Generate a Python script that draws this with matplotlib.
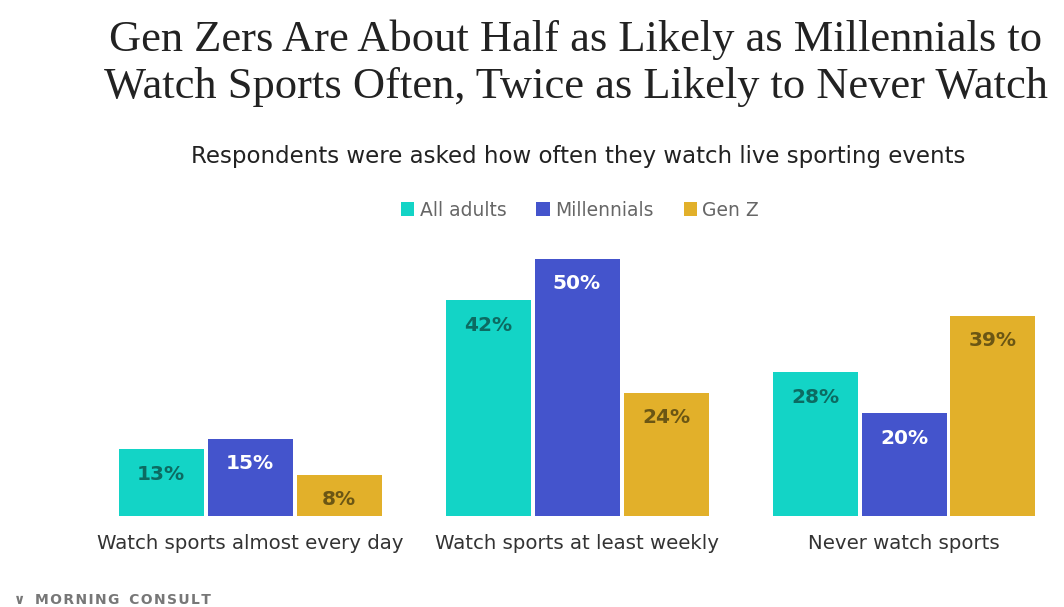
import numpy as np
import matplotlib.pyplot as plt
from matplotlib.patches import Patch

# data
categories = ['Watch sports almost every day', 'Watch sports at least weekly', 'Never watch sports']
series = ['All adults', 'Millennials', 'Gen Z']
all_adults = [13, 42, 28]
millennials = [15, 50, 20]
gen_z = [8, 24, 39]

colors = ['#13d4c6', '#4454cc', '#e2b02a']
label_colors = ['#0c6b62', '#ffffff', '#6b5614']

plt.rcParams['font.family'] = ['DejaVu Sans']

fig = plt.figure(figsize=(10.64, 6.07), dpi=100)
ax = fig.add_axes([0, 1 - 516 / 607, 1, 267.3 / 607])

x = np.arange(len(categories))
width = 85 / 327
step = 89 / 327
for i, (vals, col, lc) in enumerate(zip([all_adults, millennials, gen_z], colors, label_colors)):
    pos = x + (i - 1) * step
    bars = ax.bar(pos, vals, width=width, color=col)
    for b, v in zip(bars, vals):
        ax.annotate(f'{v}%', (b.get_x() + b.get_width() / 2, v),
                    xytext=(0, -18), textcoords='offset points',
                    ha='center', va='center', fontsize=14.5, fontweight='bold', color=lc)

ax.set_xlim(-250 / 327, (1064 - 250) / 327)
ax.set_ylim(0, 52)
ax.axis('off')

# category labels
for xi, c in zip(x, categories):
    ax.annotate(c, (xi, 0), xytext=(0, -20), textcoords='offset points',
                ha='center', va='center', fontsize=14.2, color='#333333')

# title and subtitle
fig.text(576 / 1064, 1 - 63 / 607,
         'Gen Zers Are About Half as Likely as Millennials to\nWatch Sports Often, Twice as Likely to Never Watch',
         ha='center', va='center', fontsize=32, family='Liberation Serif', color='#222222',
         linespacing=1.21)
fig.text(578 / 1064, 1 - 157 / 607,
         'Respondents were asked how often they watch live sporting events',
         ha='center', va='center', fontsize=16.5, color='#222222')

handles = [Patch(facecolor=c, label=s) for c, s in zip(colors, series)]
leg = fig.legend(handles=handles, loc='center', bbox_to_anchor=(580 / 1064, 1 - 210 / 607),
                 ncol=3, frameon=False, fontsize=13.5, handlelength=0.7, handleheight=0.7,
                 handletextpad=0.3, columnspacing=1.6)
for t in leg.get_texts():
    t.set_color('#666666')

# logo
fig.text(14 / 1064, 1 - 600 / 607, '\u2228  M\u200aO\u200aR\u200aN\u200aI\u200aN\u200aG  C\u200aO\u200aN\u200aS\u200aU\u200aL\u200aT',
         ha='left', va='center', fontsize=10, fontweight='bold', color='#777777')

fig.savefig('out.png', dpi=100)
